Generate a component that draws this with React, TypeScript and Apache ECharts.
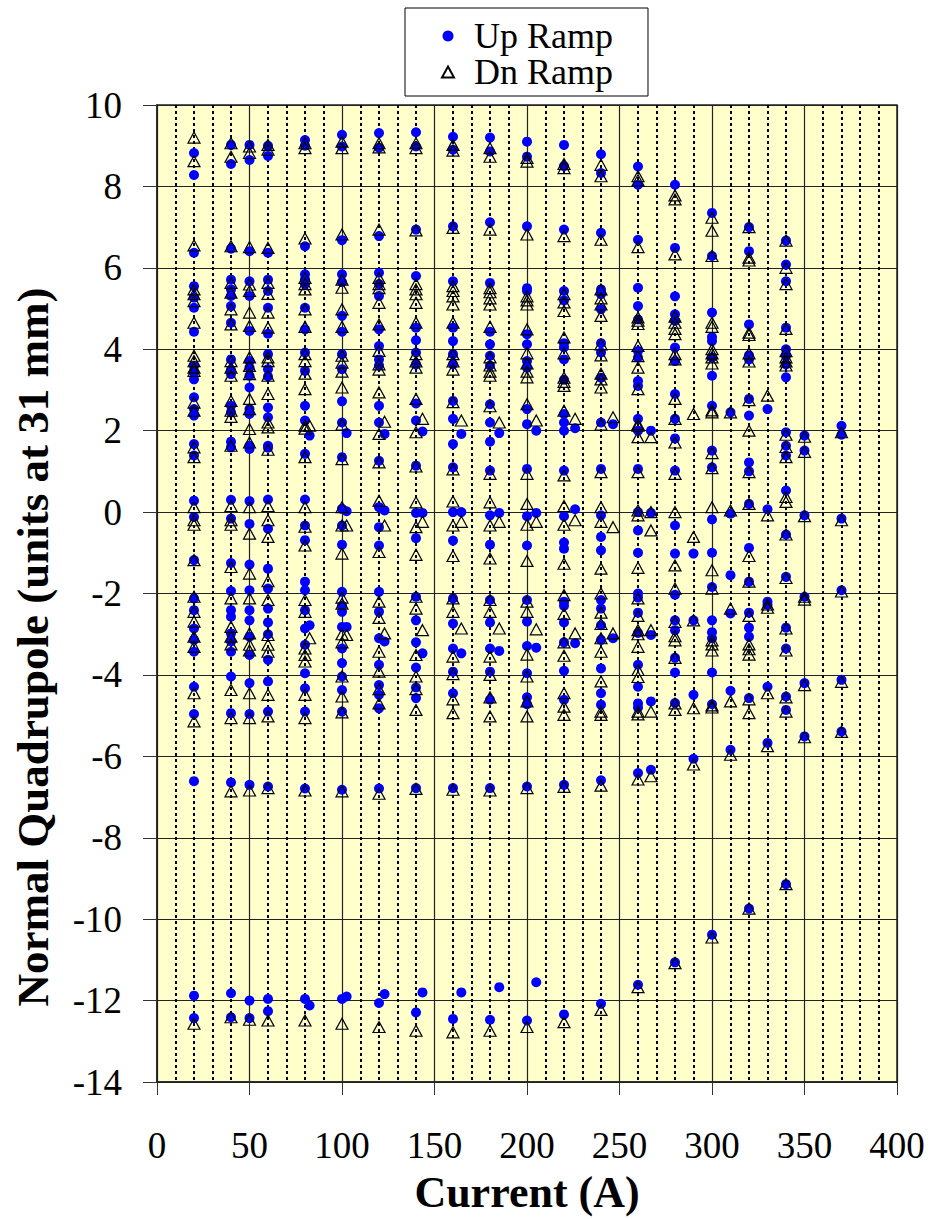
import React, { useEffect, useRef } from "react";
import * as echarts from "echarts";

// Currents (A) at which the quadrupole was measured (offset values are the second pass)
const currents: number[] = [
  20, 40, 50, 60, 80, 82.5, 100, 102.5, 120, 123, 140, 143.5, 160, 164.5, 180, 185,
  200, 205, 220, 226, 240, 246.5, 260, 267, 280, 290, 300, 310, 320, 330, 340, 350, 370,
];

// Up ramp readings (units at 31 mm), one list per current
const upRamp: number[][] = [
  [8.82, 8.28, 6.37, 5.55, 5.27, 5.02, 4.43, 3.59, 3.43, 3.26, 2.82, 2.53, 2.37, 1.67, 1.39, 0.28, -0.12, -1.18, -2.12, -2.41, -2.86, -3.14, -3.43, -4.29, -4.96, -6.61, -11.88, -12.43],
  [9.02, 8.55, 6.47, 5.71, 5.47, 5.31, 5.06, 4.65, 3.75, 3.49, 3.39, 2.61, 2.45, 1.73, 1.59, 0.3, -0.16, -1.25, -1.94, -2.41, -2.57, -2.98, -3.18, -3.43, -4.04, -4.94, -6.64, -11.82, -12.41],
  [9.02, 8.65, 6.41, 5.67, 5.31, 4.45, 3.71, 3.55, 3.35, 3.06, 2.53, 2.41, 1.63, 1.55, 0.27, -0.29, -1.29, -1.92, -2.41, -2.66, -3.06, -3.51, -4.2, -4.96, -6.7, -12.0, -12.43],
  [9.0, 8.75, 6.37, 5.71, 5.43, 5.02, 4.38, 3.88, 3.51, 3.33, 2.57, 2.33, 1.63, 1.58, 0.31, -0.41, -1.39, -1.88, -2.37, -2.71, -3.0, -3.63, -4.16, -4.9, -6.74, -11.96, -12.26],
  [9.14, 9.0, 6.53, 5.84, 5.72, 5.6, 5.02, 4.49, 3.92, 3.47, 2.61, 2.25, 1.43, 0.31, -0.33, -0.69, -1.71, -1.92, -2.41, -2.86, -3.26, -3.96, -4.33, -4.9, -6.79, -11.96],
  [1.88, -2.78, -12.12],
  [9.27, 8.98, 6.68, 5.84, 5.65, 4.82, 4.43, 3.88, 3.51, 2.72, 2.2, 1.35, 0.08, -0.33, -0.8, -1.96, -2.3, -2.45, -2.82, -3.35, -3.71, -4.04, -4.37, -4.9, -6.82, -11.96],
  [1.94, 0.02, -2.82, -11.9],
  [9.31, 8.95, 6.78, 5.88, 5.6, 5.31, 4.49, 4.08, 3.75, 3.6, 2.61, 2.2, 1.26, 0.12, -0.37, -0.82, -1.96, -2.45, -3.1, -3.75, -4.25, -4.49, -4.82, -6.79, -12.06],
  [1.92, 0.04, -3.18, -11.84],
  [9.33, 8.98, 6.94, 5.8, 4.53, 4.22, 3.92, 3.63, 2.67, 2.25, 1.14, -0.02, -0.64, -2.08, -2.66, -3.2, -3.82, -4.31, -4.57, -6.78, -12.29],
  [1.98, -0.02, -3.47, -11.8],
  [9.22, 8.9, 7.02, 5.67, 4.53, 4.2, 3.88, 3.63, 2.73, 2.29, 1.67, 1.1, 0.0, -0.7, -2.12, -2.74, -3.35, -3.92, -4.45, -6.78, -12.45],
  [1.92, 0.0, -3.47, -11.8],
  [9.2, 8.86, 7.12, 5.63, 4.43, 4.12, 3.84, 3.6, 2.65, 2.2, 1.73, 1.02, -0.08, -0.8, -2.16, -2.71, -3.35, -3.92, -4.61, -6.78, -12.47],
  [1.94, -0.02, -3.41, -11.67],
  [9.1, 8.73, 7.02, 5.5, 5.44, 4.37, 4.12, 3.71, 3.55, 2.53, 2.16, 1.06, -0.1, -0.82, -2.16, -2.69, -3.29, -3.96, -4.55, -4.72, -6.74, -12.49],
  [2.0, -0.02, -3.33, -11.55],
  [9.02, 8.5, 6.94, 5.43, 5.2, 4.15, 4.05, 3.75, 3.25, 2.41, 2.2, 2.0, 1.02, -0.1, -0.75, -0.9, -2.2, -2.3, -2.71, -3.2, -3.9, -4.61, -6.7, -12.34],
  [2.06, 0.07, -3.22],
  [8.79, 8.33, 6.86, 5.47, 5.35, 4.98, 4.15, 3.92, 3.3, 2.2, 1.06, -0.08, -0.61, -0.94, -2.16, -2.37, -2.78, -3.14, -3.84, -4.45, -4.73, -6.59, -12.08],
  [2.16, -3.1],
  [8.49, 8.04, 6.69, 5.51, 5.06, 4.73, 3.96, 3.8, 3.22, 3.1, 2.29, 2.0, 1.06, 0.0, -0.45, -1.0, -2.0, -2.1, -2.47, -2.97, -3.75, -4.29, -4.7, -4.8, -6.41, -11.61],
  [2.0, -0.02, -3.02, -4.65, -6.33],
  [8.04, 6.49, 5.3, 4.86, 4.7, 4.04, 3.71, 2.9, 2.29, 1.81, 1.02, -0.33, -1.02, -2.03, -2.66, -2.9, -3.58, -3.94, -4.69, -11.06],
  [-1.02, -2.66, -4.49, -6.06],
  [7.35, 6.29, 4.9, 4.3, 4.2, 3.8, 3.35, 2.61, 1.51, 1.1, -0.18, -1.0, -1.84, -2.66, -2.95, -3.1, -3.94, -4.72, -10.38],
  [2.45, -0.04, -1.55, -2.49, -4.39, -5.84],
  [7.0, 6.41, 4.61, 3.85, 3.75, 2.78, 2.37, 1.22, 1.0, 0.2, -0.88, -1.71, -2.47, -2.84, -3.06, -4.57, -9.74],
  [2.53, 0.07, -2.28, -2.2, -4.29, -5.67],
  [6.67, 6.08, 5.67, 4.53, 4.0, 3.84, 3.63, 3.31, 1.96, 1.63, 1.39, 0.53, -0.55, -1.59, -2.84, -3.35, -4.53, -4.86, -9.14],
  [1.88, 1.51, -0.08, -2.08, -4.2, -5.51],
  [2.12, 1.9, -0.16, -1.92, -4.12, -5.39],
];

// Down ramp readings (units at 31 mm), one list per current
const dnRamp: number[][] = [
  [9.2, 8.62, 6.55, 5.47, 5.35, 5.18, 4.65, 3.84, 3.71, 3.55, 3.47, 2.69, 2.49, 1.59, 1.35, 0.12, -0.2, -0.31, -1.18, -2.08, -2.45, -2.69, -3.06, -3.31, -4.45, -5.14, -12.57],
  [9.06, 8.73, 6.53, 5.63, 5.39, 4.98, 4.61, 3.71, 3.55, 3.35, 2.73, 2.49, 2.34, 1.63, 0.15, -0.2, -0.31, -1.35, -2.12, -2.82, -3.06, -3.25, -4.37, -5.06, -6.86, -12.41],
  [8.98, 8.82, 6.51, 5.59, 5.43, 4.9, 4.57, 3.8, 3.59, 3.39, 2.78, 2.53, 2.04, 1.71, 0.12, -0.53, -1.51, -2.12, -2.98, -3.26, -3.4, -4.45, -5.06, -6.84, -12.47],
  [9.02, 8.9, 6.49, 5.63, 5.36, 4.9, 4.53, 3.8, 3.71, 3.35, 2.9, 2.2, 2.08, 1.53, 0.15, -0.2, -0.61, -1.7, -2.16, -3.02, -3.26, -3.43, -4.49, -5.02, -6.78, -12.49],
  [9.06, 8.94, 6.72, 5.75, 5.6, 5.47, 4.98, 4.55, 3.88, 3.71, 3.4, 3.02, 2.12, 2.05, 1.35, 0.12, -0.36, -0.82, -2.16, -2.45, -3.35, -3.51, -3.67, -4.49, -5.06, -6.84, -12.49],
  [2.12, -3.1],
  [9.1, 8.94, 6.82, 5.71, 5.51, 4.98, 4.55, 3.84, 3.67, 3.45, 3.06, 2.15, 1.3, 0.12, -0.33, -1.02, -2.1, -2.25, -3.0, -3.2, -4.04, -4.53, -4.92, -6.86, -12.57],
  [-0.33, -3.02],
  [9.06, 8.96, 6.94, 5.75, 5.6, 5.5, 5.14, 4.61, 3.96, 3.63, 3.5, 2.94, 1.92, 1.22, 0.28, -0.98, -2.2, -2.6, -3.43, -3.92, -4.35, -4.7, -6.92, -12.65],
  [2.22, -0.33, -2.98],
  [9.06, 8.94, 6.92, 5.6, 5.47, 5.35, 5.14, 4.65, 3.88, 3.7, 3.55, 2.78, 1.96, 1.12, 0.24, -0.37, -1.05, -2.08, -2.37, -3.51, -4.04, -4.35, -4.86, -6.8, -12.74],
  [2.29, -0.24, -2.9],
  [9.02, 8.88, 6.98, 5.55, 5.43, 5.3, 5.1, 4.65, 3.88, 3.7, 3.5, 2.7, 1.05, 0.26, -0.33, -1.08, -2.12, -2.45, -3.55, -3.98, -4.6, -4.94, -6.82, -12.78],
  [2.25, -0.24, -2.86],
  [8.94, 8.73, 6.94, 5.5, 5.4, 5.25, 5.1, 4.55, 3.8, 3.6, 3.45, 3.35, 2.6, 0.94, 0.24, -0.33, -1.14, -2.16, -2.45, -3.55, -4.0, -4.55, -5.02, -6.84, -12.74],
  [2.2, -0.24, -2.86],
  [8.61, 8.7, 6.82, 5.3, 5.2, 5.1, 4.49, 3.9, 3.65, 3.45, 3.31, 2.65, 0.94, 0.2, -0.31, -1.2, -2.2, -2.45, -3.5, -4.04, -4.65, -5.02, -6.78, -12.65],
  [2.25, -0.24, -2.88],
  [8.55, 8.45, 6.78, 5.35, 5.15, 4.94, 4.29, 3.9, 3.3, 3.2, 3.1, 2.49, 0.9, 0.15, -0.31, -1.27, -2.04, -2.5, -3.2, -3.53, -4.45, -4.78, -4.98, -6.75, -12.53],
  [2.29, -0.2, -2.98],
  [8.53, 8.25, 6.69, 5.47, 5.25, 5.1, 4.82, 4.12, 3.85, 3.4, 3.26, 3.06, 2.15, 0.98, 0.12, -0.24, -1.39, -2.0, -2.47, -2.75, -3.1, -3.43, -4.16, -4.9, -4.98, -6.72, -12.23],
  [2.33, -0.37, -2.98],
  [8.25, 8.15, 6.51, 4.78, 4.7, 4.62, 4.08, 3.83, 3.55, 3.02, 2.16, 2.12, 1.84, 0.98, 0.04, -0.08, -1.37, -2.12, -2.55, -2.9, -3.0, -3.31, -3.88, -4.05, -4.9, -4.97, -6.57, -11.67],
  [1.84, 0.0, -0.45, -2.9, -4.9, -6.49],
  [7.78, 7.68, 6.33, 4.8, 4.65, 4.5, 4.37, 3.88, 3.75, 2.78, 2.29, 1.71, 0.94, 0.0, -1.31, -1.88, -2.7, -3.05, -3.15, -3.58, -4.7, -4.86, -11.08],
  [2.41, -0.61, -2.66, -4.82, -6.2],
  [7.23, 6.91, 6.29, 4.65, 4.55, 4.0, 3.9, 3.8, 3.65, 2.5, 2.45, 1.45, 1.08, 0.12, -1.43, -1.88, -3.15, -3.25, -3.4, -4.75, -4.8, -10.45],
  [2.45, 0.04, -2.37, -4.65, -5.96],
  [7.0, 6.18, 6.25, 4.41, 4.35, 3.9, 3.7, 2.75, 2.0, 0.98, 0.2, -1.08, -1.71, -2.55, -3.25, -3.37, -3.5, -4.6, -4.94, -9.74],
  [2.86, -0.08, -2.27, -2.35, -4.45, -5.75],
  [6.67, 6.0, 5.6, 4.5, 3.95, 3.8, 3.7, 3.6, 1.9, 1.6, 1.35, 0.37, 0.25, -0.55, -1.62, -2.86, -3.4, -4.55, -4.9, -9.14],
  [1.85, 1.48, -0.1, -2.08, -2.15, -4.25, -5.53],
  [1.96, -0.2, -1.95, -4.17, -5.4],
];

const xTicks = { min: 0, max: 400, step: 50 };
const yTicks = { min: -14, max: 10, step: 2 };

const FONT = "Liberation Serif";

function toPoints(lists: number[][]): number[][] {
  const pts: number[][] = [];
  lists.forEach((vals, i) => {
    vals.forEach((v) => pts.push([currents[i], v]));
  });
  return pts;
}

export default function App() {
  const ref = useRef<HTMLDivElement>(null);

  useEffect(() => {
    document.body.style.margin = "0";
    if (!ref.current) return;
    const chart = echarts.init(ref.current, undefined, { renderer: "svg" });
    chart.setOption({
      animation: false,
      backgroundColor: "#ffffff",
      legend: {
        orient: "vertical",
        left: 405,
        top: 8,
        padding: [10, 35, 6, 36],
        itemGap: 0,
        itemWidth: 12,
        itemHeight: 11,
        symbolKeepAspect: true,
        backgroundColor: "#ffffff",
        borderColor: "#000000",
        borderWidth: 1,
        borderRadius: 0,
        textStyle: {
          fontSize: 36,
          color: "#000",
          fontFamily: FONT,
          padding: [0, 0, 0, 15],
        },
        data: ["Up Ramp", "Dn Ramp"],
      },
      grid: {
        left: 157,
        top: 105,
        width: 740,
        height: 980,
        show: true,
        backgroundColor: "#FFFFCC",
        borderColor: "#222",
        borderWidth: 1.5,
      },
      xAxis: {
        type: "value",
        min: xTicks.min,
        max: xTicks.max,
        interval: xTicks.step,
        name: "Current (A)",
        nameLocation: "middle",
        nameGap: 88,
        nameTextStyle: { fontSize: 44, fontWeight: "bold", color: "#000", fontFamily: FONT },
        axisLine: { show: true, onZero: false, lineStyle: { color: "#222", width: 1.5 } },
        axisTick: { show: true, inside: false, length: 13, lineStyle: { color: "#333", width: 1 } },
        axisLabel: { fontSize: 37, color: "#000", margin: 45, fontFamily: FONT },
        splitLine: { show: true, lineStyle: { color: "#222", width: 1.2 } },
        minorTick: { show: false, splitNumber: 5 },
        minorSplitLine: { show: true, lineStyle: { color: "#000", width: 2, type: [3, 3] } },
      },
      yAxis: {
        type: "value",
        min: yTicks.min,
        max: yTicks.max,
        interval: yTicks.step,
        axisLine: { show: true, onZero: false, lineStyle: { color: "#222", width: 1.5 } },
        axisTick: { show: true, inside: false, length: 14, lineStyle: { color: "#333", width: 1 } },
        axisLabel: { fontSize: 37, color: "#000", margin: 35, fontFamily: FONT },
        splitLine: { show: true, lineStyle: { color: "#222", width: 1.2 } },
      },
      graphic: [
        {
          type: "text",
          x: 33,
          y: 647,
          rotation: Math.PI / 2,
          style: {
            text: "Normal Quadrupole (units at 31 mm)",
            fontSize: 45,
            fontWeight: "bold",
            fontFamily: FONT,
            fill: "#000",
            align: "center",
            verticalAlign: "middle",
          },
        },
      ],
      series: [
        {
          name: "Up Ramp",
          type: "scatter",
          symbol: "circle",
          symbolSize: 10,
          itemStyle: { color: "#0000FF", opacity: 1 },
          z: 2,
          data: toPoints(upRamp),
        },
        {
          name: "Dn Ramp",
          type: "scatter",
          symbol: "triangle",
          symbolSize: [12, 11],
          itemStyle: { color: "rgba(0,0,0,0)", borderColor: "#000", borderWidth: 1.2, opacity: 1 },
          z: 3,
          data: toPoints(dnRamp),
        },
      ],
    });
    return () => chart.dispose();
  }, []);

  return (
    <div
      ref={ref}
      style={{ position: "absolute", left: 0, top: 0, width: 930, height: 1219 }}
    />
  );
}
